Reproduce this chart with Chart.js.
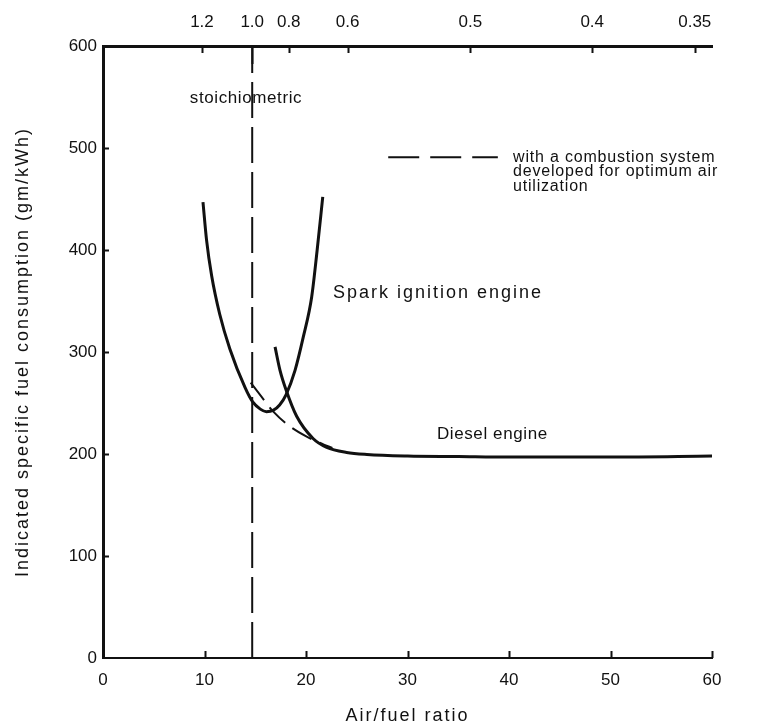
<!DOCTYPE html>
<html>
<head>
<meta charset="utf-8">
<script src="https://cdn.jsdelivr.net/npm/chart.js@4.4.1/dist/chart.umd.min.js"></script>
<style>
  html, body { margin: 0; padding: 0; background: #fff; }
  #wrap { width: 778px; height: 726px; position: relative; }
</style>
</head>
<body>
<div id="wrap"><canvas id="c" width="778" height="726"></canvas></div>
<script>
// ---- data ----
const siAFR   = [9.85, 10.2, 10.7, 11.5, 12.5, 14.0, 14.75, 15.5, 16.1, 16.8, 17.4, 18.03, 18.92, 19.74, 20.56, 21.1, 21.65];
const siSFC   = [447, 410, 375, 337, 303, 265, 251, 244, 241.5, 243, 248, 258, 282, 315, 354, 400, 452];

const dieselAFR = [16.95, 17.44, 18.03, 19.08, 20.72, 22.04, 24, 26, 30, 35, 40, 50, 60];
const dieselSFC = [305, 282, 263, 237, 215, 206.5, 201.5, 199.5, 198, 197.5, 197, 197, 198];

const optAFR = [14.55, 15.63, 16.78, 18.42, 20.07, 21.7, 22.6];
const optSFC = [270, 256, 241.5, 227, 217, 209.5, 206];

const stoichAFR = [14.7, 14.7];
const stoichSFC = [0, 600];

const legendAFR = [28.1, 38.9];
const legendSFC = [491, 491];

const xTicks = [0, 10, 20, 30, 40, 50, 60];
const yTicks = [0, 100, 200, 300, 400, 500, 600];

// top axis: equivalence-ratio labels placed at their air/fuel positions
const topLabels   = ['1.2', '1.0', '0.8', '0.6', '0.5', '0.4', '0.35'];
const topLabelAFR = [9.75, 14.7, 18.3, 24.1, 36.2, 48.2, 58.3];

const xTitle = 'Air/fuel ratio';
const yTitle = 'Indicated specific fuel consumption (gm/kWh)';

const noteTexts = ['stoichiometric', 'with a combustion system', 'developed for optimum air', 'utilization',
                   'Spark ignition engine', 'Diesel engine'];
const noteX     = [14.09, 40.4, 40.4, 40.4, 22.66, 32.9];
const noteY     = [549, 491, 476.5, 462, 358, 219];
const noteAlign = ['center', 'left', 'left', 'left', 'left', 'left'];

const pts = (xs, ys) => xs.map((x, i) => ({x: x, y: ys[i]}));

const FONT = '"Liberation Sans", Arial, Helvetica, sans-serif';
const INK = '#111';

const noteStyle = [
  {size: 17, sp: 0.6}, {size: 16, sp: 0.8}, {size: 16, sp: 0.8}, {size: 16, sp: 0.8},
  {size: 18, sp: 2}, {size: 17, sp: 0.6}
];

const marks = {
  id: 'marks',
  afterDatasetsDraw(chart) {
    const ctx = chart.ctx;
    const x = chart.scales.x, y = chart.scales.y, x2 = chart.scales.x2;
    const a = chart.chartArea;
    ctx.save();
    ctx.strokeStyle = INK;
    ctx.lineWidth = 2;
    ctx.beginPath();
    yTicks.slice(1, -1).forEach(v => {
      const py = Math.round(y.getPixelForValue(v)) + 0.5;
      ctx.moveTo(a.left, py); ctx.lineTo(a.left + 6, py);
    });
    xTicks.slice(1).forEach(v => {
      const px = Math.round(x.getPixelForValue(v)) + 0.5;
      ctx.moveTo(px, a.bottom); ctx.lineTo(px, a.bottom - 7);
    });
    topLabelAFR.forEach((v, i) => {
      const px = Math.round(x2.getPixelForValue(v)) + 0.5;
      const len = i === 1 ? 18 : 7;
      ctx.moveTo(px, a.top); ctx.lineTo(px, a.top + len);
    });
    ctx.stroke();

    ctx.fillStyle = INK;
    ctx.textBaseline = 'middle';
    noteTexts.forEach((t, i) => {
      ctx.font = noteStyle[i].size + 'px ' + FONT;
      ctx.letterSpacing = noteStyle[i].sp + 'px';
      ctx.textAlign = noteAlign[i];
      ctx.fillText(t, x.getPixelForValue(noteX[i]), y.getPixelForValue(noteY[i]));
    });

    // axis titles
    ctx.font = '18px ' + FONT;
    ctx.letterSpacing = '2px';
    ctx.textAlign = 'center';
    ctx.fillText(xTitle, (a.left + a.right) / 2, 716);
    ctx.save();
    ctx.translate(23, (a.top + a.bottom) / 2);
    ctx.rotate(-Math.PI / 2);
    ctx.fillText(yTitle, 0, 0);
    ctx.restore();
    ctx.letterSpacing = '0px';
    ctx.restore();
  }
};

const ds = (data, width, dash) => ({
  data: data, borderColor: INK, borderWidth: width, borderDash: dash || [],
  pointRadius: 0, fill: false, cubicInterpolationMode: 'monotone',
  borderCapStyle: 'butt', xAxisID: 'x', yAxisID: 'y'
});

new Chart(document.getElementById('c'), {
  type: 'line',
  data: {
    datasets: [
      ds(pts(siAFR, siSFC), 3),
      ds(pts(dieselAFR, dieselSFC), 3),
      ds(pts(optAFR, optSFC), 2, [22, 9]),
      Object.assign(ds(pts(stoichAFR, stoichSFC), 2, [36, 9]), {cubicInterpolationMode: 'default', tension: 0}),
      Object.assign(ds(pts(legendAFR, legendSFC), 2, [31, 11]), {cubicInterpolationMode: 'default', tension: 0})
    ]
  },
  options: {
    responsive: false,
    animation: false,
    layout: { padding: { left: 0, right: 66, top: 0, bottom: 0 } },
    plugins: { legend: { display: false }, tooltip: { enabled: false } },
    scales: {
      x: {
        type: 'linear', position: 'bottom', min: 0, max: 60,
        afterBuildTicks(s) { s.ticks = xTicks.map(v => ({value: v})); },
        grid: { display: false, drawTicks: false },
        border: { display: true, color: INK, width: 2 },
        ticks: { color: INK, font: { family: FONT, size: 17 }, padding: 12, maxRotation: 0, autoSkip: false },
        afterFit(s) { s.height = 68; }
      },
      x2: {
        type: 'linear', position: 'top', min: 0, max: 60,
        afterBuildTicks(s) { s.ticks = topLabelAFR.map(v => ({value: v})); },
        grid: { display: false, drawTicks: false },
        border: { display: true, color: INK, width: 3 },
        ticks: {
          color: INK, font: { family: FONT, size: 17 }, padding: 13, maxRotation: 0, autoSkip: false,
          callback(v, i) { return topLabels[i]; }
        },
        afterFit(s) { s.height = 46; }
      },
      y: {
        type: 'linear', position: 'left', min: 0, max: 600,
        afterBuildTicks(s) { s.ticks = yTicks.map(v => ({value: v})); },
        grid: { display: false, drawTicks: false },
        border: { display: true, color: INK, width: 3 },
        ticks: { color: INK, font: { family: FONT, size: 17 }, padding: 6, autoSkip: false },
        afterFit(s) { s.width = 103; }
      }
    }
  },
  plugins: [marks]
});
</script>
</body>
</html>
